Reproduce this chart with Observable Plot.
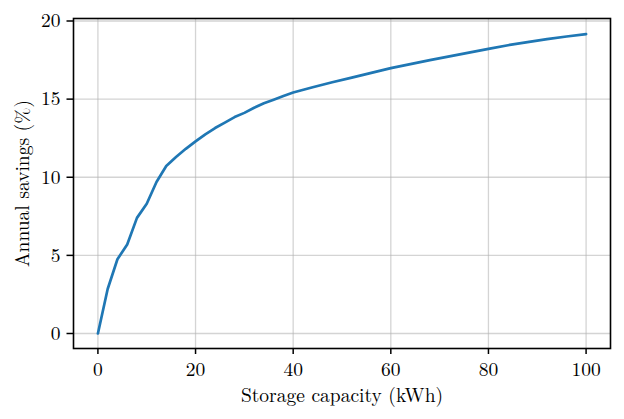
<!DOCTYPE html>
<html><head><meta charset="utf-8">
<script src="https://cdn.jsdelivr.net/npm/d3@7"></script>
<script src="https://cdn.jsdelivr.net/npm/@observablehq/plot@0.6"></script>
<style>
html,body{margin:0;padding:0;background:#fff}
#chart svg, #chart svg text{font-family:"Latin Modern Roman","Liberation Serif",serif !important}
</style>
</head><body><div id="chart"></div>
<script>
const capacity = [0,2,4,6,8,10,12,14,16,18,20,22,24,26,28,30,32,34,36,38,40,44,48,52,56,60,64,68,72,76,80,84,88,92,96,100];
const savings  = [0,2.85,4.75,5.7,7.4,8.3,9.7,10.72,11.3,11.82,12.3,12.75,13.15,13.5,13.85,14.12,14.45,14.73,14.96,15.2,15.42,15.76,16.08,16.38,16.68,16.98,17.24,17.5,17.74,17.98,18.22,18.45,18.65,18.84,19.01,19.16];
const xTicks = [0,20,40,60,80,100];
const yTicks = [0,5,10,15,20];
const xLabel = "Storage capacity (kWh)";
const yLabel = "Annual savings (%)";
const data = capacity.map((c, i) => ({capacity: c, savings: savings[i]}));
const font = "Latin Modern Roman";
const chart = Plot.plot({
  width: 624, height: 419,
  marginLeft: 73, marginRight: 14, marginTop: 18, marginBottom: 71,
  style: {fontFamily: font, fontSize: "19.5px", background: "white", color: "black", overflow: "visible"},
  x: {domain: [-5, 105]},
  y: {domain: [-0.96, 20.16]},
  marks: [
    Plot.gridX(xTicks, {stroke: "#b0b0b0", strokeOpacity: 0.55, strokeWidth: 1.3}),
    Plot.gridY(yTicks, {stroke: "#b0b0b0", strokeOpacity: 0.55, strokeWidth: 1.3}),
    Plot.line(data, {x: "capacity", y: "savings", stroke: "#1f77b4", strokeWidth: 2.7}),
    Plot.frame({stroke: "black", strokeWidth: 1.6}),
    Plot.axisX(xTicks, {tickSize: 6, tickPadding: 7.5, strokeWidth: 1.5, fontFamily: font, label: xLabel, labelAnchor: "center", labelArrow: "none", labelOffset: 53}),
    Plot.axisY(yTicks, {tickSize: 6.5, tickPadding: 6.5, strokeWidth: 1.5, fontFamily: font, label: yLabel, labelAnchor: "center", labelArrow: "none", labelOffset: 58})
  ]
});
chart.setAttribute("font-family", font);
chart.querySelectorAll("text").forEach(t => { t.setAttribute("font-family", font); t.style.fontFamily = font; });
document.getElementById("chart").appendChild(chart);
</script>
</body></html>
